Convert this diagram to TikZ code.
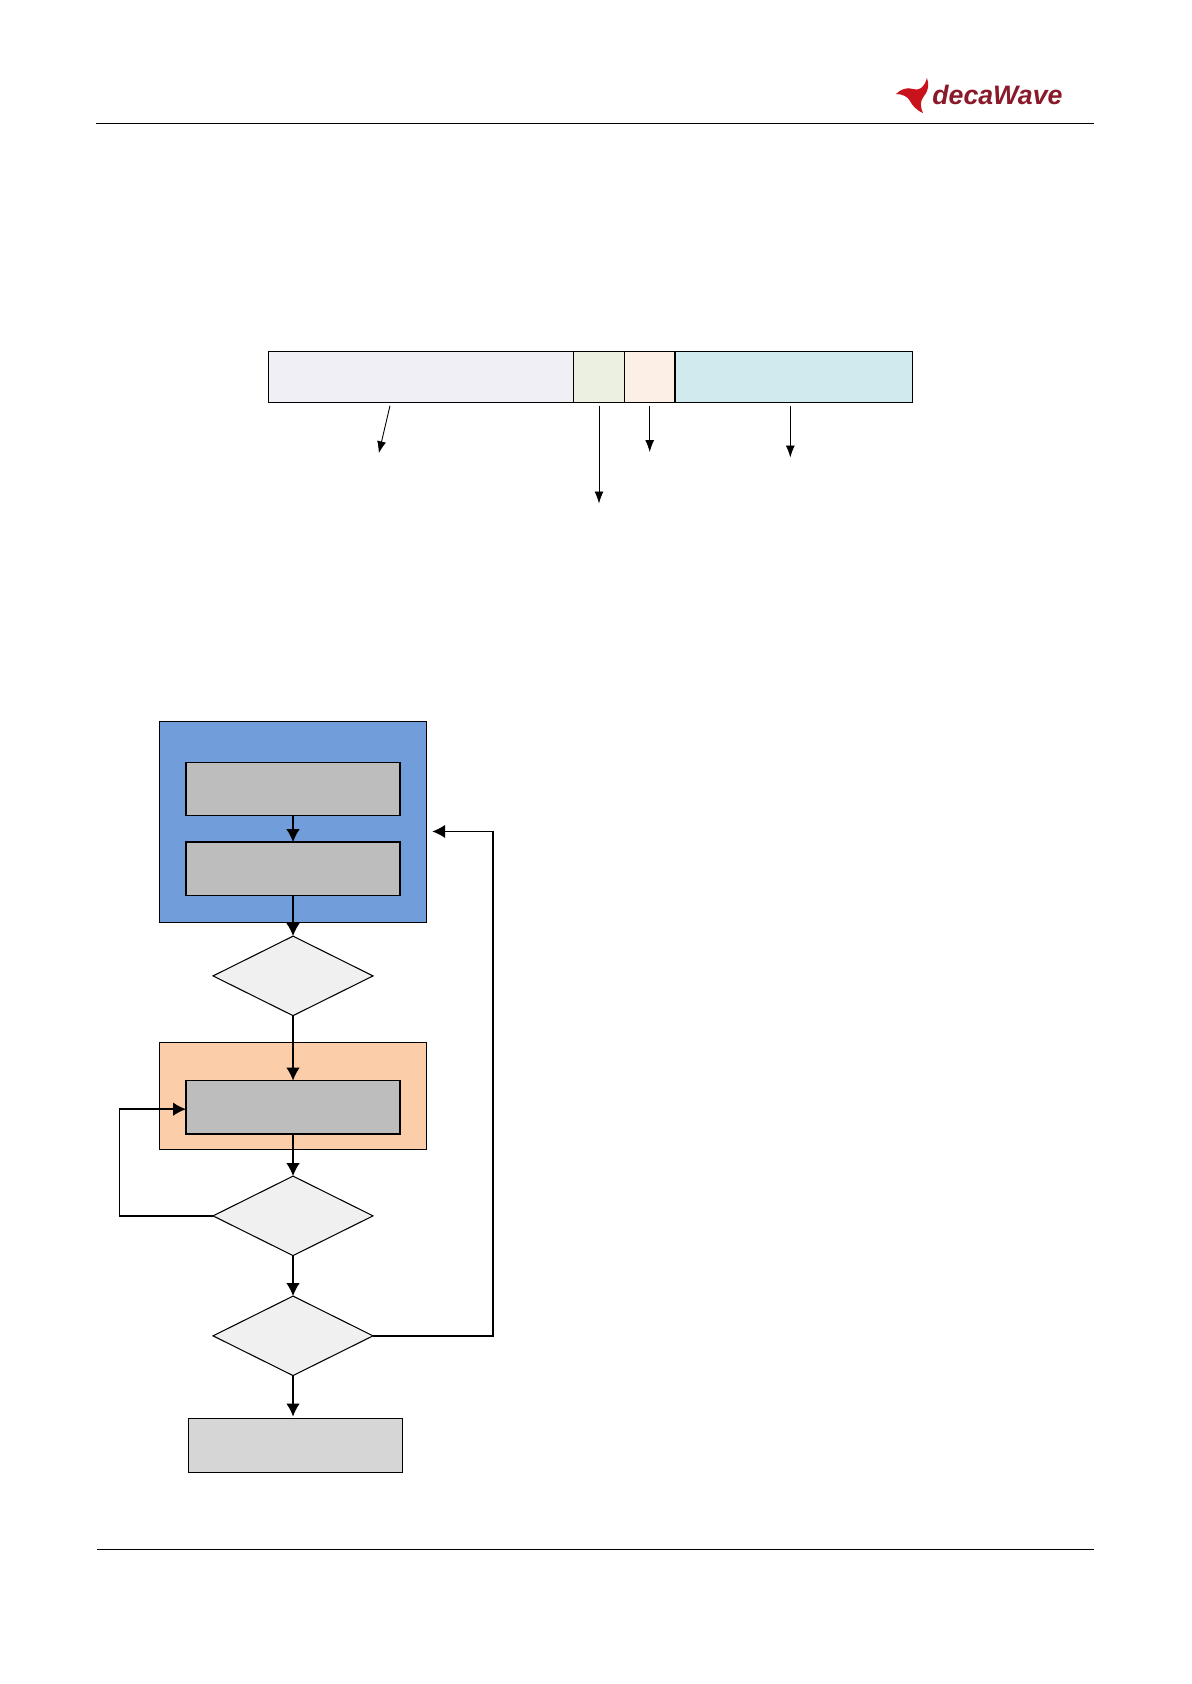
\documentclass[tikz,border=0pt]{standalone}
\usepackage{xcolor}
\usepackage{fontspec}
\setmainfont{Liberation Sans}
\usepackage{tikz}
\usetikzlibrary{arrows.meta,positioning,calc,shapes.geometric}

\definecolor{logored}{HTML}{C8121C}
\definecolor{logotext}{HTML}{8A1A2A}
\definecolor{hdrfill}{HTML}{EFEFF5}
\definecolor{lenfill}{HTML}{EBF0E0}
\definecolor{crcfill}{HTML}{FCEFE6}
\definecolor{bodyfill}{HTML}{D0EAEE}
\definecolor{initfill}{HTML}{719DDA}
\definecolor{recvfill}{HTML}{FBCDA8}

\begin{document}
\begin{tikzpicture}[
    x=0.02cm, y=-0.02cm,
    node distance=0.5cm and 0.5cm,
    box/.style={draw, line width=0.6pt, inner sep=0pt, outer sep=0pt},
    seg/.style={box, minimum height=1.01cm},
    frame/.style={box, minimum width=5.35cm},
    inner/.style={box, line width=0.8pt, fill=gray!52, minimum width=4.28cm, minimum height=1.07cm},
    test/.style={box, diamond, fill=black!6, minimum width=3.2cm, minimum height=1.59cm},
    arr/.style={-{Latex[length=2.6mm,width=2.7mm]}, line width=0.8pt},
    thinarr/.style={-{Latex[length=2.4mm,width=1.8mm]}, line width=0.5pt}
  ]
    \useasboundingbox (0,0) rectangle (1191,1684);

    % header and footer
    \draw[line width=0.45pt] (96,123) -- (1094,123);
    \draw[line width=0.45pt] (97,1549) -- (1094,1549);
    \fill[logored] (927,78) .. controls (924,88) and (919,91) .. (913,89) .. controls (907,87) and (901,89) .. (896,94) .. controls (903,94) and (908,97) .. (910,101) .. controls (912,105) and (916,110) .. (923,113) .. controls (920,106) and (920,101) .. (924,96) .. controls (929,90) and (929,84) .. (927,78) -- cycle;
    \node[anchor=base west, inner sep=0pt, text=logotext, font=\bfseries\itshape\fontsize{15.2}{18}\selectfont] (logo) at (932,104.5) {decaWave};

    % bar
    \node[seg, anchor=north west, fill=hdrfill, minimum width=6.1cm] (hdr) at (268.6,351.7) {};
    \node[seg, right=0pt of hdr, fill=lenfill, minimum width=1.01cm] (len) {};
    \node[seg, right=0pt of len, fill=crcfill, minimum width=1.02cm] (crc) {};
    \node[seg, right=0pt of crc, fill=bodyfill, minimum width=4.75cm] (body) {};

    \coordinate (hdrs) at (390,405.7);
    \coordinate (hdre) at (378.8,453.3);
    \coordinate (lens) at (599,405.7);
    \coordinate (lene) at (599,503.5);
    \coordinate (crcs) at (649.7,405.7);
    \coordinate (crce) at (649.7,452);
    \coordinate (bodys) at (790.3,405.7);
    \coordinate (bodye) at (790.3,457.5);
    \draw[thinarr] (hdrs) -- (hdre);
    \draw[thinarr] (lens) -- (lene);
    \draw[thinarr] (crcs) -- (crce);
    \draw[thinarr] (bodys) -- (bodye);

    % flow
    \node[frame, anchor=north west, fill=initfill, minimum height=4.01cm] (init) at (159.3,721.7) {};
    \node[inner, below=0.81cm of init.north] (cfg) {};
    \node[inner, below=0.53cm of cfg] (start) {};
    \node[test, below=0.28cm of init] (t1) {};
    \node[frame, below=0.53cm of t1, fill=recvfill, minimum height=2.14cm] (recv) {};
    \node[inner, below=0.77cm of recv.north] (wait) {};
    \node[test, below=0.54cm of recv] (t2) {};
    \node[test, below=0.81cm of t2] (t3) {};
    \node[box, below=0.85cm of t3, xshift=0.05cm, fill=black!16, minimum width=4.28cm, minimum height=1.08cm] (done) {};

    \coordinate[left=1.87cm of t2.west] (loopl);
    \coordinate[right=2.4cm of t3.east] (loopr);

    \draw[arr] (cfg) -- (start);
    \draw[arr] (start.south) -- (t1.north);
    \draw[arr] (t1.south) -- (wait.north);
    \draw[arr] (wait.south) -- (t2.north);
    \draw[arr] (t2.south) -- (t3.north);
    \draw[arr, shorten >=0.03cm] (t3.south) -- (t3.south |- done.north);
    \draw[arr] (t2.west) -- (loopl) |- ([yshift=-0.036cm]wait.west);
    \draw[arr, shorten >=0.11cm] (t3.east) -- (loopr) |- ([yshift=-0.19cm]init.east);
\end{tikzpicture}
\end{document}
